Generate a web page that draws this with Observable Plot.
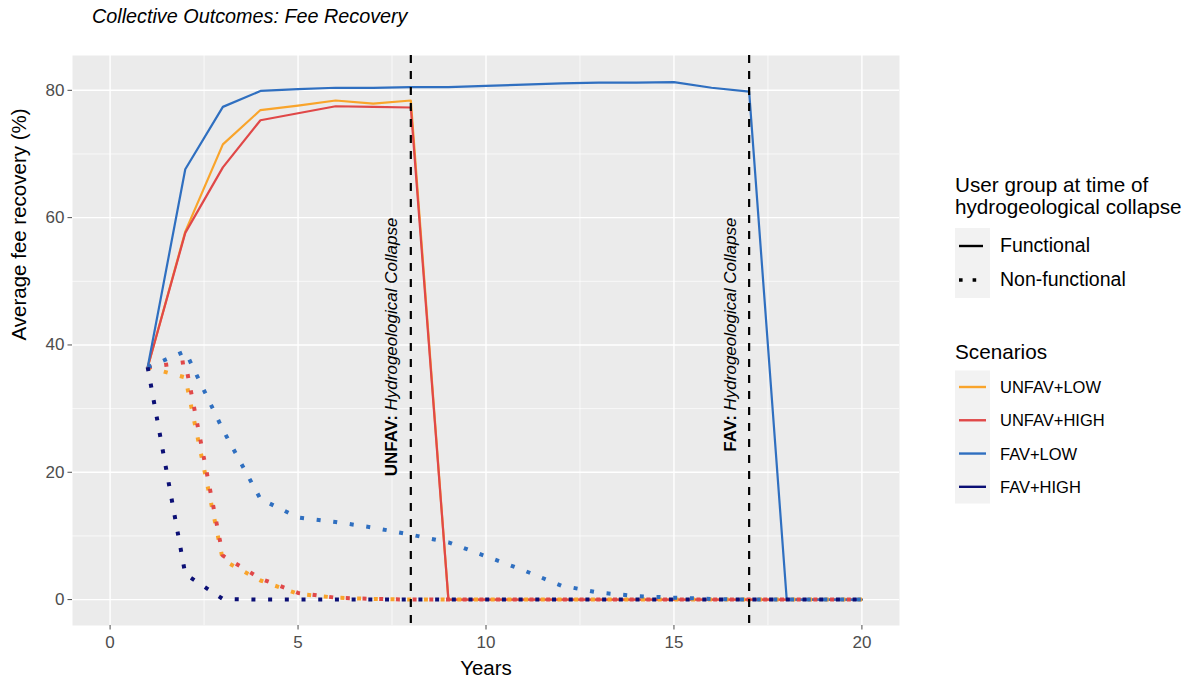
<!DOCTYPE html>
<html><head><meta charset="utf-8">
<script src="https://cdn.jsdelivr.net/npm/d3@7"></script>
<script src="https://cdn.jsdelivr.net/npm/@observablehq/plot@0.6"></script>
<style>
body{margin:0;background:#fff;font-family:"Liberation Sans",Arial,Helvetica,sans-serif;}
#wrap{position:relative;width:1192px;height:689px;overflow:hidden;background:#fff;}
#title{position:absolute;left:92px;top:7.3px;font-size:19.8px;line-height:1;font-style:italic;white-space:nowrap;color:#000;}
#chart{position:absolute;left:0;top:40px;}
#legend{position:absolute;left:940px;top:160px;}
</style></head><body><div id="wrap">
<div id="title">Collective Outcomes: Fee Recovery</div>
<div id="chart"></div>
<svg id="legend" width="252" height="360"></svg>
</div>
<script>
// ---- data ----
const years = [1,2,3,4,5,6,7,8,9,10,11,12,13,14,15,16,17,18,19,20];
const scenarios = ["UNFAV+LOW", "UNFAV+HIGH", "FAV+LOW", "FAV+HIGH"];
const groups = ["Functional", "Non-functional"];

// Functional user groups
const unfavLowFunctional  = [36.5,57.8,71.5,76.9,77.6,78.4,77.9,78.4,0,0,0,0,0,0,0,0,0,0,0,0];
const unfavHighFunctional = [36.5,57.6,67.9,75.3,76.4,77.5,77.4,77.3,0,0,0,0,0,0,0,0,0,0,0,0];
const favLowFunctional    = [36.5,67.6,77.4,79.9,80.2,80.4,80.4,80.5,80.5,80.7,80.9,81.1,81.2,81.2,81.3,80.4,79.8,0,0,0];

// Non-functional user groups
const unfavLowNonFunctional  = [36.5,34.9,6.2,3.0,0.9,0.3,0.1,0,0,0,0,0,0,0,0,0,0,0,0,0];
const unfavHighNonFunctional = [36.5,37.3,6.9,3.3,1.05,0.3,0.1,0,0,0,0,0,0,0,0,0,0,0,0,0];
const favLowNonFunctional    = [36.5,39.0,26.7,15.8,12.9,12.2,11.3,10.2,9.0,6.8,4.6,2.2,1.1,0.55,0.3,0.1,0,0,0,0];
const favHighNonFunctional   = [36.5,4.0,0.1,0,0,0,0,0,0,0,0,0,0,0,0,0,0,0,0,0];

const collapseYears = [8, 17];
const collapseLabels = ["UNFAV: Hydrogeological Collapse", "FAV: Hydrogeological Collapse"];
const labelX = [7.5, 16.5];
const labelY = [60, 60];

const xTicks = [0,5,10,15,20];
const xMinor = [2.5,7.5,12.5,17.5];
const yTicks = [0,20,40,60,80];
const yMinor = [10,30,50,70];

const scenarioColors = ["#F9A42B", "#E04848", "#2F6FC0", "#0B0F75"];

// ---- tables ----
function rows(values, scenario, group) {
  return years.map((yr, i) => ({year: yr, value: values[i], scenario, group}));
}
const functionalRows = [
  ...rows(unfavLowFunctional, "UNFAV+LOW", "Functional"),
  ...rows(unfavHighFunctional, "UNFAV+HIGH", "Functional"),
  ...rows(favLowFunctional, "FAV+LOW", "Functional")
];
const nonFunctionalRows = [
  ...rows(unfavLowNonFunctional, "UNFAV+LOW", "Non-functional"),
  ...rows(unfavHighNonFunctional, "UNFAV+HIGH", "Non-functional"),
  ...rows(favLowNonFunctional, "FAV+LOW", "Non-functional"),
  ...rows(favHighNonFunctional, "FAV+HIGH", "Non-functional")
];
const annotations = collapseLabels.map((label, i) => ({x: labelX[i], y: labelY[i], label}));

const font = "Liberation Sans, Arial, Helvetica, sans-serif";

const plot = Plot.plot({
  width: 1192, height: 649,
  marginTop: 15, marginBottom: 64, marginLeft: 72, marginRight: 293,
  style: {fontFamily: font, background: "white", color: "black"},
  x: {domain: [-1, 21], axis: null},
  y: {domain: [-4.07, 85.47], axis: null},
  color: {domain: scenarios, range: scenarioColors},
  marks: [
    Plot.frame({fill: "#EBEBEB", stroke: "none"}),
    Plot.ruleX(xMinor, {stroke: "white", strokeWidth: 0.7}),
    Plot.ruleY(yMinor, {stroke: "white", strokeWidth: 0.7}),
    Plot.ruleX(xTicks, {stroke: "white", strokeWidth: 1.4}),
    Plot.ruleY(yTicks, {stroke: "white", strokeWidth: 1.4}),
    Plot.axisX({ticks: xTicks, tickSize: 4.5, tickPadding: 6, fontSize: 17, color: "#4D4D4D", label: null}),
    Plot.axisY({ticks: yTicks, tickSize: 4.5, tickPadding: 3.5, fontSize: 17, color: "#4D4D4D", label: null}),
    Plot.line(functionalRows, {x: "year", y: "value", z: "scenario", stroke: "scenario", strokeWidth: 2.2}),
    Plot.line(nonFunctionalRows, {x: "year", y: "value", z: "scenario", stroke: "scenario", strokeWidth: 4, strokeDasharray: "4,12.7", strokeLinecap: "butt"}),
    Plot.ruleX(collapseYears, {stroke: "black", strokeWidth: 2.2, strokeDasharray: "8,8"}),
    Plot.text(annotations, {x: "x", y: "y", text: "label", rotate: -90, textAnchor: "end", fontSize: 17, fill: "black"}),
    Plot.text(["Years"], {frameAnchor: "bottom", text: d => d, dy: 49, fontSize: 20.5, fill: "black"}),
    Plot.text(["Average fee recovery (%)"], {frameAnchor: "left", text: d => d, rotate: -90, dx: -53, fontSize: 20.5, fill: "black"})
  ]
});

// bold prefix + italic remainder for the collapse labels
plot.querySelectorAll("text").forEach(t => {
  const m = t.textContent.match(/^(UNFAV:|FAV:) (.*)$/);
  if (m && t.children.length === 0) {
    t.textContent = "";
    const ns = "http://www.w3.org/2000/svg";
    const a = document.createElementNS(ns, "tspan");
    a.setAttribute("font-weight", "bold");
    a.textContent = m[1];
    const b = document.createElementNS(ns, "tspan");
    b.setAttribute("font-style", "italic");
    b.textContent = " " + m[2];
    t.appendChild(a); t.appendChild(b);
  }
});
document.getElementById("chart").appendChild(plot);

// ---- legend ----
const lg = d3.select("#legend").style("font-family", font);
lg.append("text").attr("x", 15).attr("y", 32).attr("font-size", 20.7).text("User group at time of");
lg.append("text").attr("x", 15).attr("y", 54).attr("font-size", 20.7).text("hydrogeological collapse");
lg.append("rect").attr("x", 15).attr("y", 68).attr("width", 35).attr("height", 70).attr("fill", "#F2F2F2");
const groupRowY = [86, 120];
groups.forEach((g, i) => {
  const line = lg.append("line").attr("x1", 19).attr("x2", i === 0 ? 43 : 46)
    .attr("y1", groupRowY[i]).attr("y2", groupRowY[i]).attr("stroke", "black");
  if (i === 0) line.attr("stroke-width", 2.4);
  else line.attr("stroke-width", 3.6).attr("stroke-dasharray", "3.6,10");
  lg.append("text").attr("x", 60).attr("y", groupRowY[i] + 6).attr("font-size", 19.5).text(g);
});
lg.append("text").attr("x", 15).attr("y", 199).attr("font-size", 20.7).text("Scenarios");
lg.append("rect").attr("x", 15).attr("y", 210.5).attr("width", 35).attr("height", 133).attr("fill", "#F2F2F2");
scenarios.forEach((s, i) => {
  const y = 227 + i * 33.27;
  lg.append("line").attr("x1", 19).attr("x2", 46).attr("y1", y).attr("y2", y)
    .attr("stroke", scenarioColors[i]).attr("stroke-width", 2.4);
  lg.append("text").attr("x", 60).attr("y", y + 6).attr("font-size", 16.5).text(s);
});
</script>
</body></html>
